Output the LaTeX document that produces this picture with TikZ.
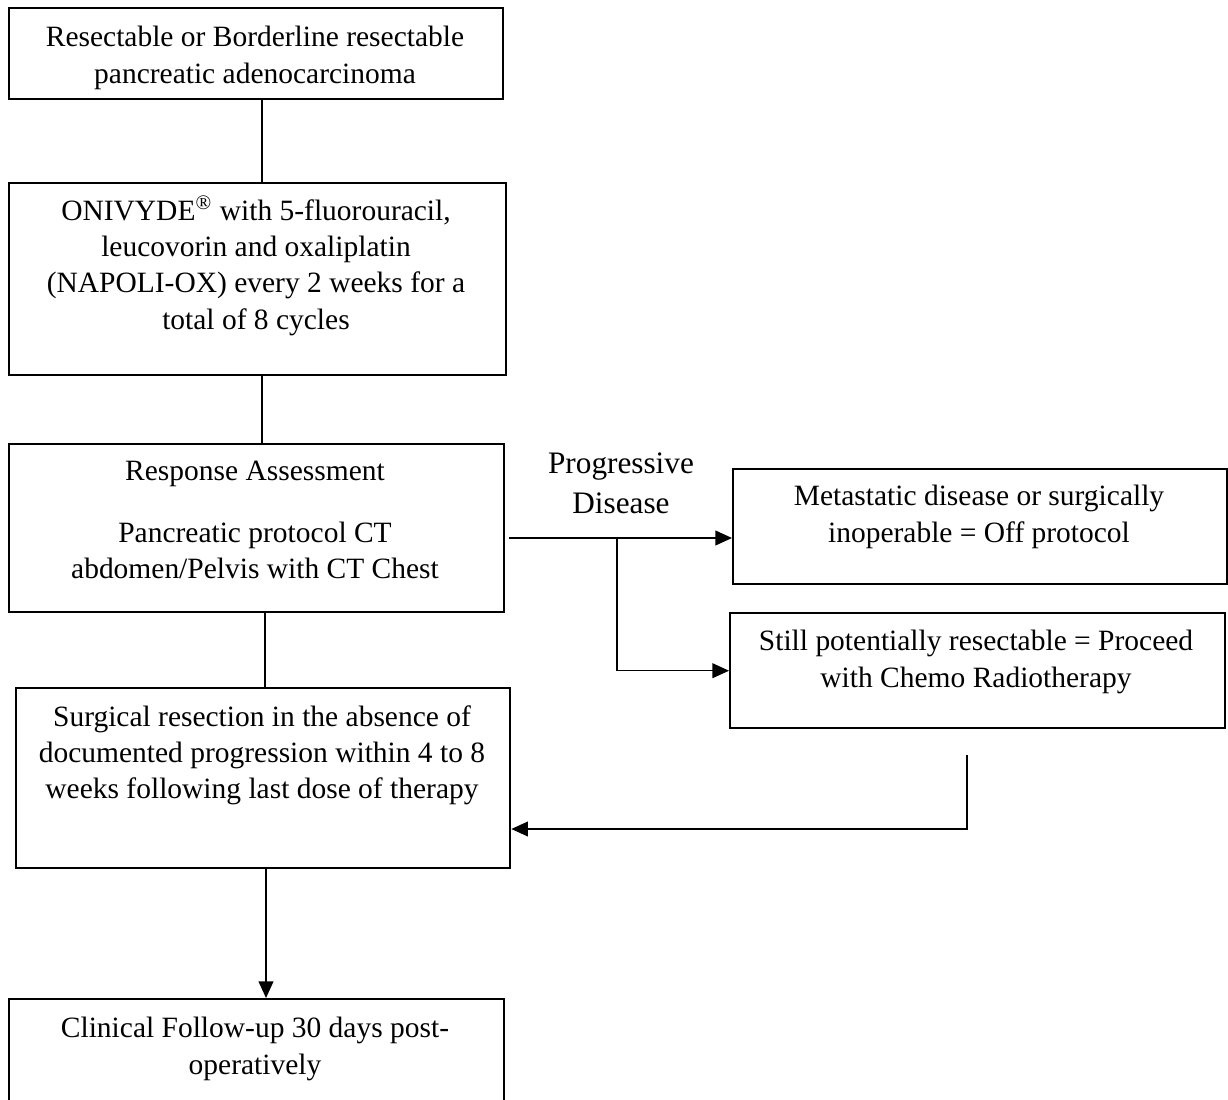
\documentclass[tikz,border=0pt]{standalone}
\usepackage{fontspec}
\setmainfont{Liberation Serif}
\usetikzlibrary{arrows.meta}

\begin{document}
\begin{tikzpicture}[x=0.3935pt, y=-0.3935pt,
  box/.style={draw, line width=0.9pt, inner sep=0, anchor=north west},
  txt/.style={align=center, inner sep=0, anchor=north, font=\fontsize{11.6}{14.3}\selectfont},
  link/.style={line width=0.9pt},
  flow/.style={line width=0.5pt, -{Triangle[length=6.5pt, width=5.8pt]}}]

\useasboundingbox (0,0) rectangle (1228,1099);
\clip (0,0) rectangle (1228,1099);

% main column
\node[box, minimum width=194.4pt, minimum height=35.8pt] (b1) at (8,7) {};
\node[box, minimum width=195.6pt, minimum height=75.6pt] (b2) at (8,182) {};
\node[box, minimum width=194.8pt, minimum height=66.1pt] (b3) at (8,443) {};
\node[box, minimum width=194.4pt, minimum height=70.8pt] (b4) at (15,687) {};
\node[box, minimum width=194.8pt, minimum height=43.3pt] (b5) at (8,998) {};

% side boxes
\node[box, minimum width=194.4pt, minimum height=45.3pt] (b6) at (732,468) {};
\node[box, minimum width=194.8pt, minimum height=45.3pt] (b7) at (729,612) {};

\node[txt] (t1) at (255,26) {Resectable or Borderline resectable\\pancreatic adenocarcinoma};
\node[txt] (t2) at (256,195) {ONIVYDE\textsuperscript{®} with 5-fluorouracil,\\leucovorin and oxaliplatin\\(NAPOLI-OX) every 2 weeks for a\\total of 8 cycles};
\node[txt] (t3) at (255,461) {Response Assessment\\[9.8pt]Pancreatic protocol CT\\abdomen/Pelvis with CT Chest};
\node[txt] (t4) at (262,705) {Surgical resection in the absence of\\documented progression within 4 to 8\\weeks following last dose of therapy};
\node[txt] (t5) at (255,1017) {Clinical Follow-up 30 days post-\\operatively};
\node[txt] (t6) at (979,485) {Metastatic disease or surgically\\inoperable = Off protocol};
\node[txt] (t7) at (976,630) {Still potentially resectable = Proceed\\with Chemo Radiotherapy};

\node[txt, font=\fontsize{12.3}{15.7}\selectfont] (pd) at (621,452) {Progressive\\Disease};

\coordinate (s1) at (262,0);
\coordinate (s2) at (265,0);
\coordinate (s3) at (266,0);
\coordinate (out) at (509,538);
\coordinate (split) at (617,538);
\coordinate (back) at (967,755);

\draw[link] (b1.south -| s1) -- (b2.north -| s1);
\draw[link] (b2.south -| s1) -- (b3.north -| s1);
\draw[link] (b3.south -| s2) -- (b4.north -| s2);
\draw[flow] (b4.south -| s3) -- (b5.north -| s3);

\draw[flow] (out) -- (out -| b6.west);
\draw[flow] (split) |- (b7.west);
\draw[flow] (back) -- ++(0,74) coordinate (turn) -- (turn -| b4.east);

\end{tikzpicture}
\end{document}
